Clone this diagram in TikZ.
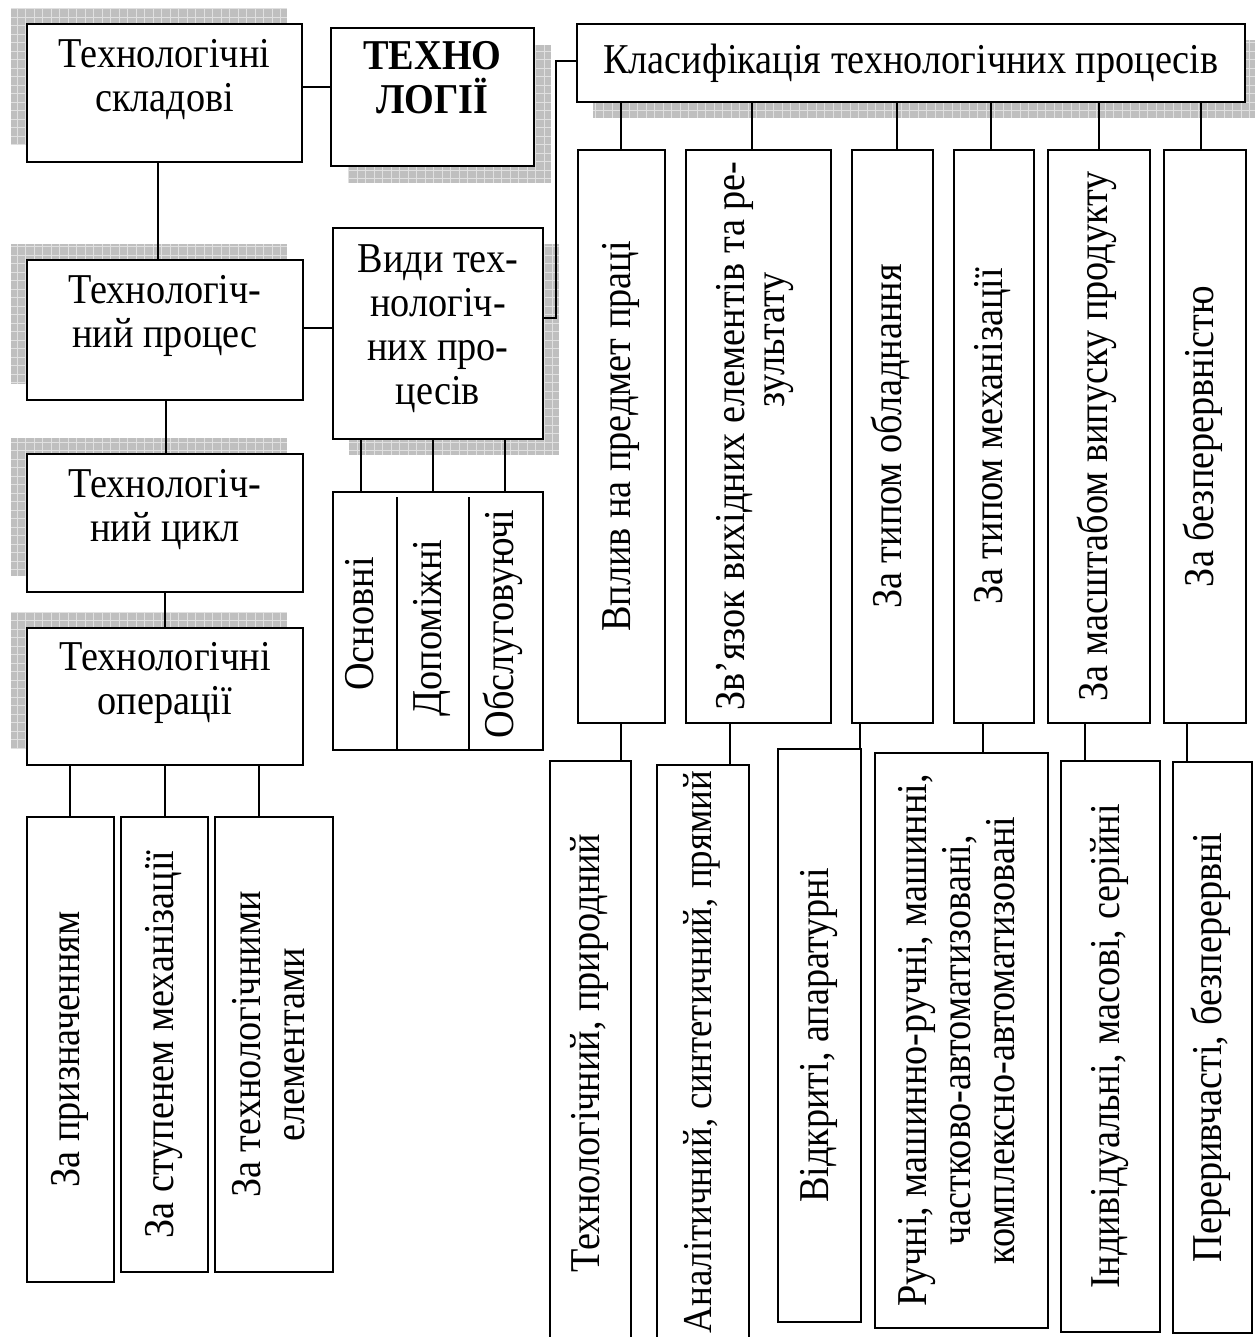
\documentclass[tikz,border=0pt]{standalone}
\usepackage{fontspec}
\setmainfont{Liberation Serif}[FakeStretch=0.9]
\usepackage{graphicx}
\tikzset{
  boxst/.style={draw, line width=1.8pt, fill=white, inner sep=0pt, align=center,
                font=\fontsize{42.5}{44}\selectfont},
  txtst/.style={inner sep=0pt, align=center, font=\fontsize{42.5}{44}\selectfont},
  conn/.style={line width=1.8pt},
  shfill/.style={fill=black!25},
  shgrid/.style={draw=black!12, line width=0.9pt, step=8.5pt}
}
\newcommand\mybox[7][]{%
  \pgfmathsetmacro\bxcx{(#3+#5)/2}%
  \pgfmathsetmacro\bxcy{(#4+#6)/2}%
  \pgfmathsetmacro\bxw{#5-#3}%
  \pgfmathsetmacro\bxh{#6-#4}%
  \node[boxst, minimum width=\bxw pt, minimum height=\bxh pt, #1] (#2) at (\bxcx,\bxcy) {#7};}
\newcommand\shadowrect[4]{%
  \fill[shfill] (#1,#2) rectangle (#3,#4);
  \begin{scope}
    \clip (#1,#2) rectangle (#3,#4);
    \draw[shgrid] (#1,#2) grid (#3,#4);
  \end{scope}}
\newcommand\rot[1]{\rotatebox{90}{\begin{tabular}{@{}c@{}}#1\end{tabular}}}
\begin{document}
\begin{tikzpicture}[x=1pt,y=-1pt]
\useasboundingbox (0,0) rectangle (1254,1337);
\fill[white] (0,0) rectangle (1254,1337);
% shadows
\shadowrect{11}{8}{287}{145}
\shadowrect{348}{45}{551}{183}
\shadowrect{593}{40}{1262}{118}
\shadowrect{349}{244}{559}{455}
\shadowrect{11}{244}{287}{384}
\shadowrect{11}{438}{287}{576}
\shadowrect{11}{612}{287}{749}
% left column
\mybox[text depth=36pt]{A}{27}{24}{302}{162}{Технологічні\\складові}
\mybox[text depth=40pt, font=\fontsize{42.5}{44}\selectfont\bfseries]{T}{331}{28}{534}{166}{ТЕХНО\\ЛОГІЇ}
\mybox{K}{577}{24}{1245}{102}{Класифікація технологічних процесів}
\mybox[text depth=38pt]{B}{27}{260}{303}{400}{Технологіч-\\ний процес}
\mybox[text depth=36pt]{C}{27}{454}{303}{592}{Технологіч-\\ний цикл}
\mybox[text depth=36pt]{D}{27}{628}{303}{765}{Технологічні\\операції}
\mybox[text depth=18pt]{V}{333}{228}{543}{439}{Види тех-\\нологіч-\\них про-\\цесів}
% group of kinds
\mybox{G}{333}{492}{543}{750}{}
\draw[conn] (397,497) -- (397,0 |- G.south);
\draw[conn] (469,497) -- (469,0 |- G.south);
\node[txtst] (o1) at (365,624) {\rot{Основні}};
\node[txtst] (o2) at (433,628) {\rot{Допоміжні}};
\node[txtst] (o3) at (505,624) {\rot{Обслуговуючі}};
% bottom left
\mybox{L1}{27}{817}{114}{1282}{\rot{За призначенням}}
\mybox{L2}{121}{817}{208}{1272}{\rot{За ступенем механізації}}
\mybox{L3}{215}{817}{333}{1272}{\rot{За технологічними\\елементами}}
% second row right
\mybox{R1}{578}{150}{665}{723}{\rot{Вплив на предмет праці}}
\mybox{R2}{686}{150}{831}{723}{}
\node[txtst] (r2a) at (735,436) {\rotatebox{90}{Зв’язок вихідних елементів та ре-}};
\node[txtst] (r2b) at (779,340) {\rotatebox{90}{зультату}};
\mybox{R3}{852}{150}{933}{723}{\rot{За типом обладнання}}
\mybox{R4}{954}{150}{1034}{723}{\rot{За типом механізації}}
\mybox{R5}{1048}{150}{1150}{723}{\rot{За масштабом випуску продукту}}
\mybox{R6}{1164}{150}{1246}{723}{\rot{За безперервністю}}
% third row right
\mybox{S1}{550}{761}{631}{1345}{\rot{Технологічний, природний}}
\mybox{S2}{657}{765}{749}{1345}{}
\node[txtst, font=\fontsize{41}{44}\selectfont] (s2t) at (703,1052) {\rot{Аналітичний, синтетичний, прямий}};
\mybox{S3}{778}{749}{861}{1322}{\rot{Відкриті, апаратурні}}
\mybox{S4}{875}{753}{1048}{1328}{\rot{Ручні, машинно-ручні, машинні,\\частково-автоматизовані,\\комплексно-автоматизовані}}
\mybox{S5}{1061}{761}{1160}{1332}{\rot{Індивідуальні, масові, серійні}}
\mybox{S6}{1173}{762}{1252}{1333}{\rot{Переривчасті, безперервні}}
% connectors
\draw[conn] (A.east |- 0,87) -- (T.west |- 0,87);
\draw[conn] (158,0 |- A.south) -- (158,0 |- B.north);
\draw[conn] (166,0 |- B.south) -- (166,0 |- C.north);
\draw[conn] (165,0 |- C.south) -- (165,0 |- D.north);
\draw[conn] (B.east |- 0,328) -- (V.west |- 0,328);
\draw[conn] (K.west |- 0,61) -- (556,61) -- (556,318) -- (V.east |- 0,318);
\foreach \x in {361,433,505} \draw[conn] (\x,0 |- V.south) -- (\x,0 |- G.north);
\foreach \x/\n in {70/L1,165/L2,259/L3} \draw[conn] (\x,0 |- D.south) -- (\x,0 |- \n.north);
\foreach \x/\n in {621/R1,752/R2,897/R3,991/R4,1099/R5,1201/R6} \draw[conn] (\x,0 |- K.south) -- (\x,0 |- \n.north);
\foreach \x/\a/\b in {621/R1/S1,730/R2/S2,860/R3/S3,983/R4/S4,1085/R5/S5,1187/R6/S6} \draw[conn] (\x,0 |- \a.south) -- (\x,0 |- \b.north);
\end{tikzpicture}
\end{document}
